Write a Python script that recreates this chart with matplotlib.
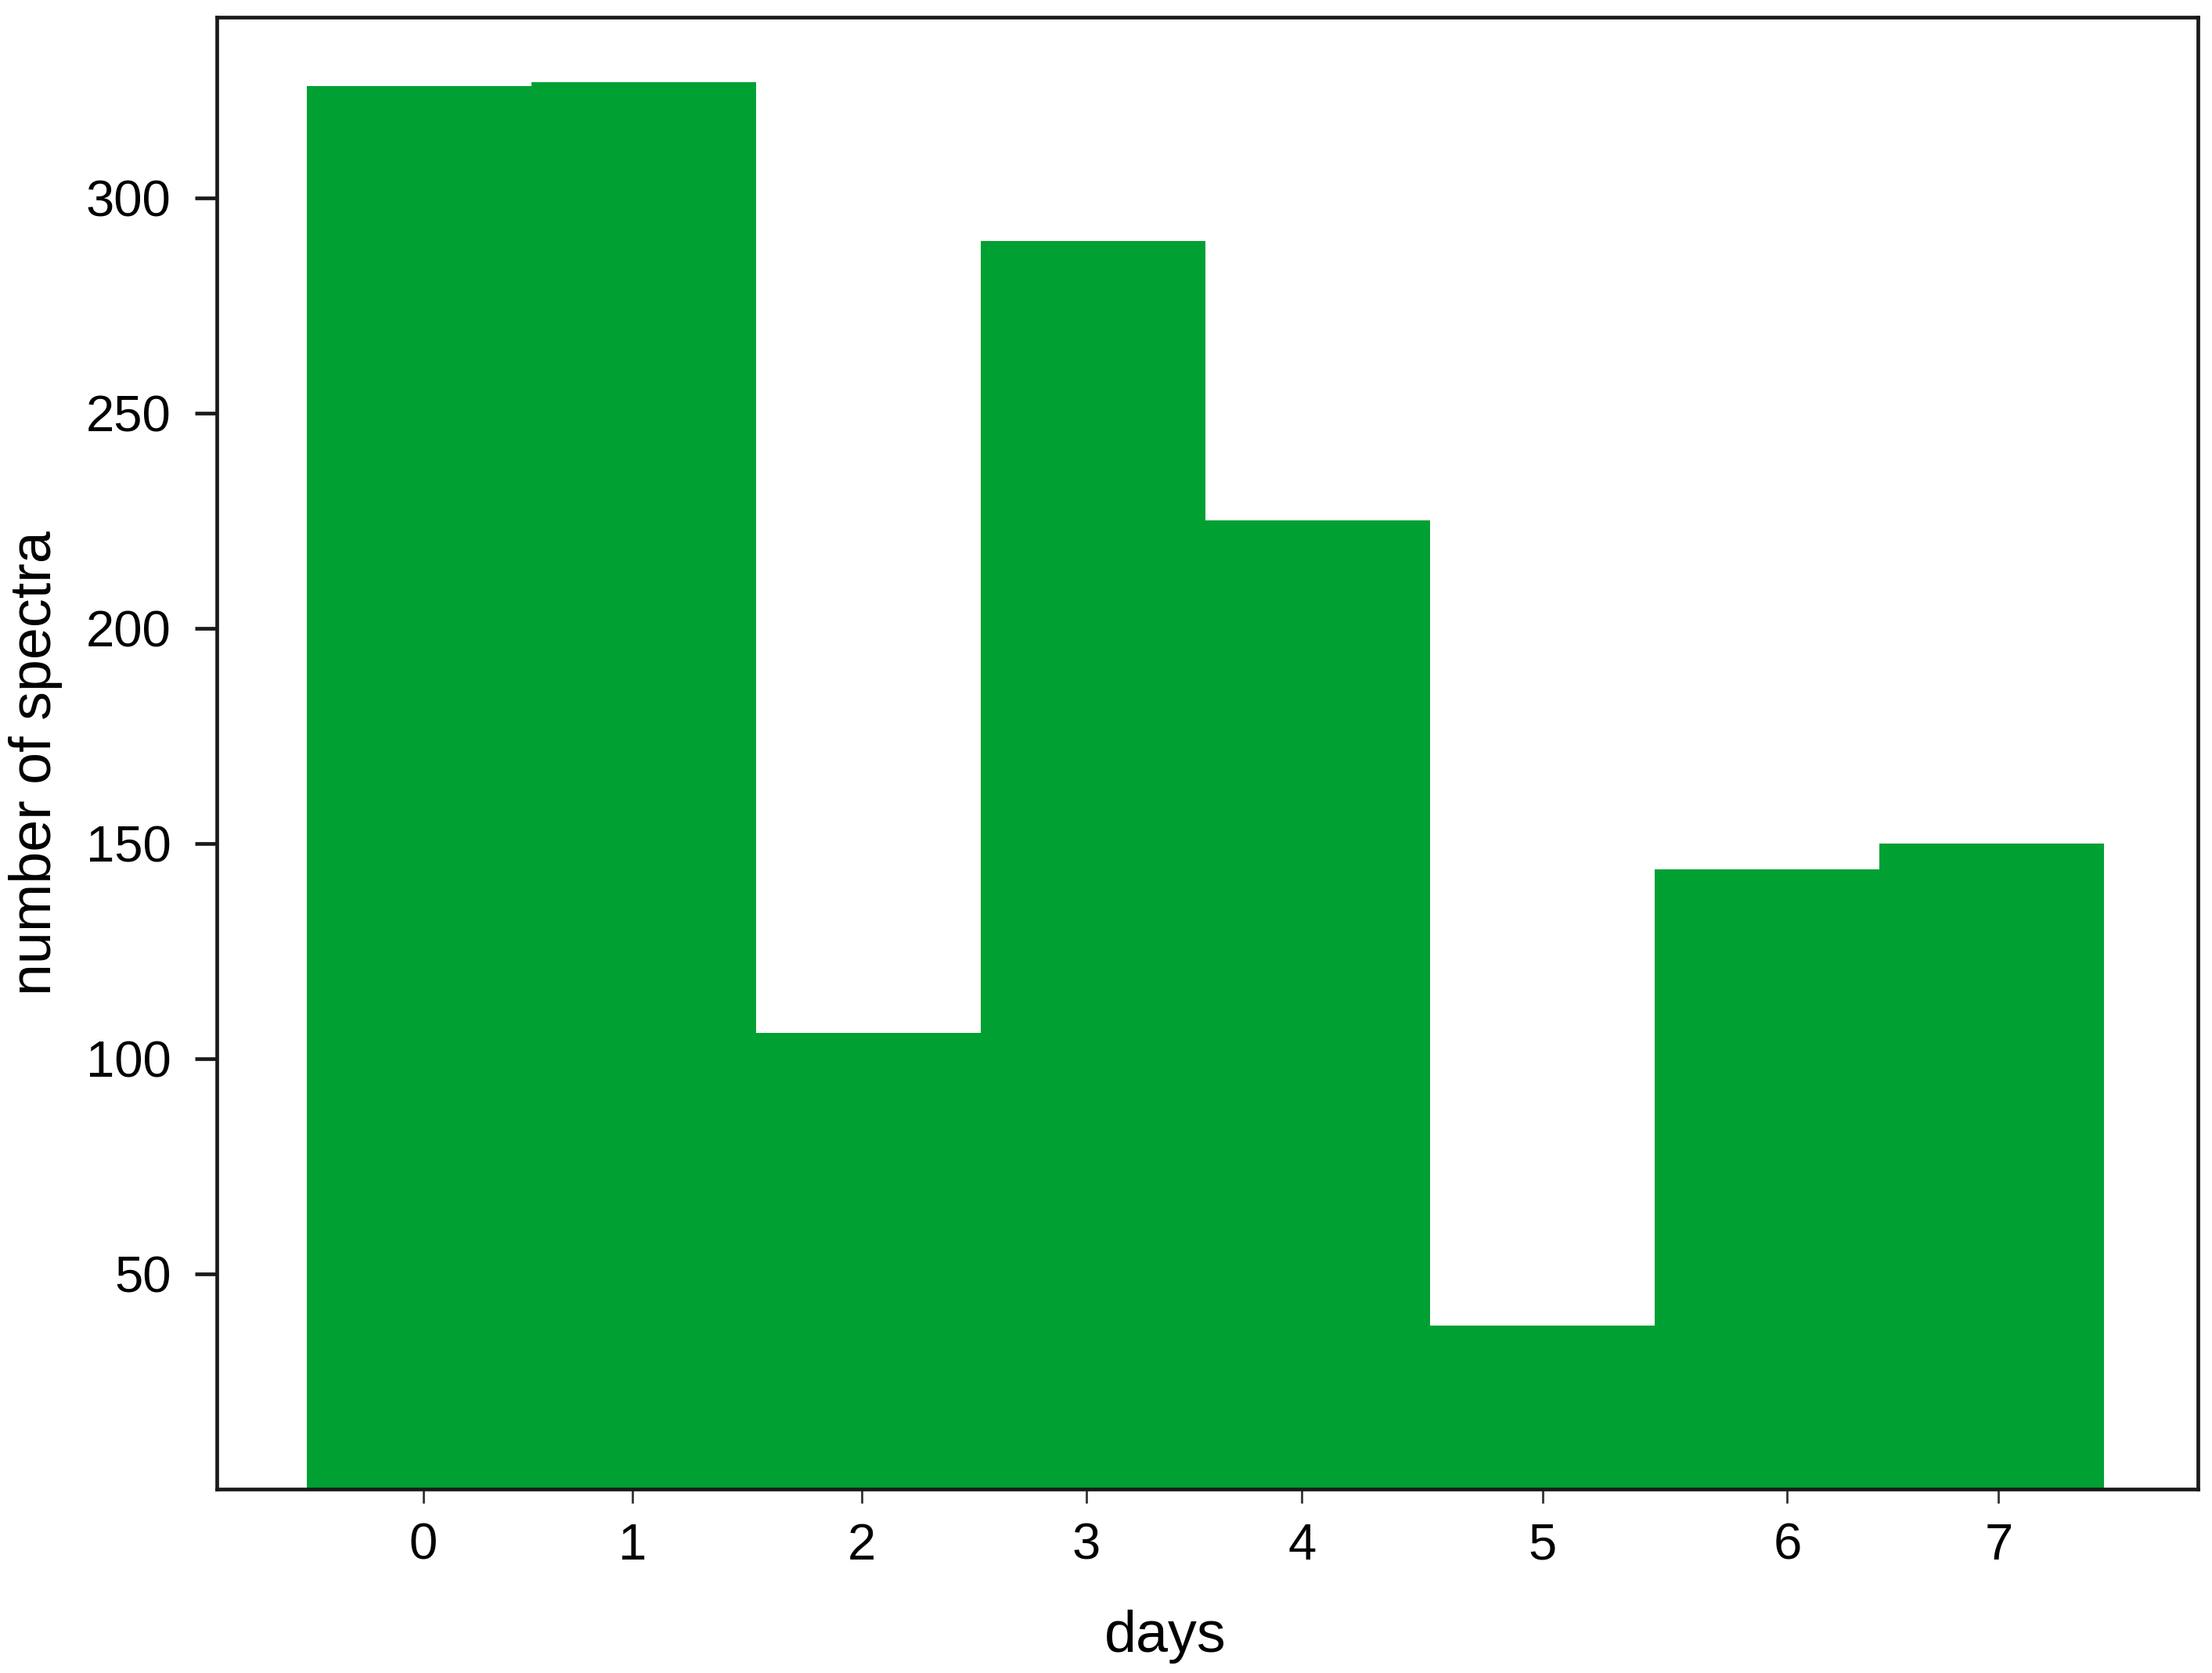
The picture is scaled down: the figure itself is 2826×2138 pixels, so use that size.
"""Bar chart: number of spectra per day."""

import matplotlib
matplotlib.use("Agg")
import matplotlib.pyplot as plt

days = [0, 1, 2, 3, 4, 5, 6, 7]
n_spectra = [326, 327, 106, 290, 225, 38, 144, 150]
day_labels = ["0", "1", "2", "3", "4", "5", "6", "7"]

# tick marks in the original sit a little off the bar centres
tick_pos = [0.02, 0.95, 1.97, 2.97, 3.93, 5.0, 6.09, 7.03]

GREEN = "#00a033"


def main():
    plt.rcParams["font.family"] = ["Liberation Sans", "DejaVu Sans"]

    fig = plt.figure(figsize=(14.13, 10.69), dpi=200)
    ax = fig.add_axes([0.098, 0.110, 0.8955, 0.8797])

    ax.bar(days, n_spectra, width=1.0, color=GREEN, linewidth=0, zorder=1)

    ax.set_xlim(-0.90, 7.916)
    ax.set_ylim(0, 342)

    ax.set_xticks(tick_pos)
    ax.set_xticklabels(day_labels)
    ax.set_yticks([50, 100, 150, 200, 250, 300])

    for sp in ax.spines.values():
        sp.set_linewidth(1.7)
        sp.set_color("#1a1a1a")
        sp.set_zorder(3)

    ax.tick_params(axis="x", direction="out", length=6.5, width=1.0,
                   pad=9, labelsize=23.5, color="#333333")
    ax.tick_params(axis="y", direction="out", length=10, width=1.7,
                   pad=11, labelsize=23.5, color="#1a1a1a")

    ax.set_xlabel("days", fontsize=26.5)
    ax.set_ylabel("number of spectra", fontsize=26.5)
    ax.xaxis.set_label_coords(0.479, -0.082)
    ax.yaxis.set_label_coords(-0.078, 0.493)

    fig.savefig("out.png", dpi=200)


if __name__ == "__main__":
    main()
